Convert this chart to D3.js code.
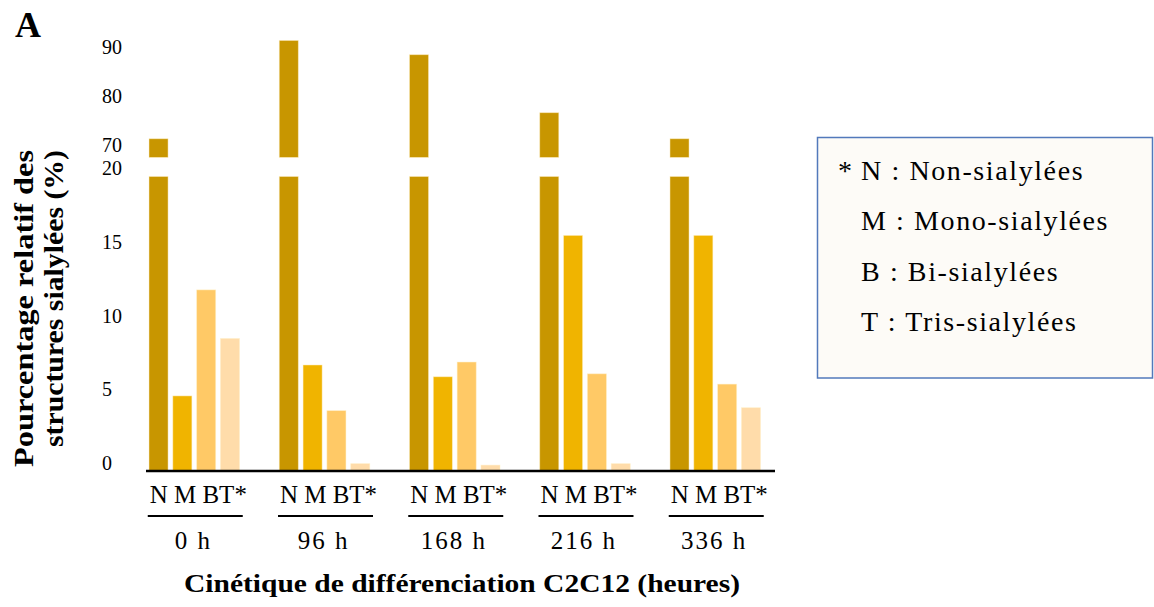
<!DOCTYPE html>
<html>
<head>
<meta charset="utf-8">
<script src="https://cdn.jsdelivr.net/npm/d3@7"></script>
<style>
  body { margin: 0; background: #fff; }
  svg { display: block; }
</style>
</head>
<body>
<div id="canvas"></div>
<script>
const groups = ["0 h", "96 h", "168 h", "216 h", "336 h"];
const series = ["N", "M", "B", "T"];
const valuesN = [72.9, 92.9, 90.0, 78.2, 72.9];
const valuesM = [5.1, 7.2, 6.4, 16.0, 16.0];
const valuesB = [12.3, 4.1, 7.4, 6.6, 5.9];
const valuesT = [9.0, 0.5, 0.4, 0.5, 4.3];
const lowTicks = [0, 5, 10, 15, 20];
const highTicks = [70, 80, 90];
const legendLabels = ["N : Non-sialylées", "M : Mono-sialylées", "B : Bi-sialylées", "T : Tris-sialylées"];
const colors = { N: "#c89600", M: "#f0b400", B: "#ffc966", T: "#ffdcaa" };

const w = 1154, h = 607;
const baseY = 471;       // x axis line
const lowTop = 176.5;    // top of lower panel (value 20)
const hiMin = 69.1;      // bottom value of the upper panel

// pick a Times-like font that is really installed
function hasFont(name) {
  const ctx = document.createElement("canvas").getContext("2d");
  const s = "abcdefghijklmnopqrstuvwxyz ABCDEFGHIJKLM 0123456789";
  let same = true;
  ["monospace", "sans-serif"].forEach(fb => {
    ctx.font = "40px " + fb;
    const a = ctx.measureText(s).width;
    ctx.font = "40px '" + name + "', " + fb;
    const b = ctx.measureText(s).width;
    if (a !== b) same = false;
  });
  return !same;
}
const serif = ["Liberation Serif", "Tinos", "Times New Roman", "Nimbus Roman", "FreeSerif", "DejaVu Serif"]
  .find(hasFont) || "serif";
const ff = "'" + serif + "', serif";

const valuesBySeries = { N: valuesN, M: valuesM, B: valuesB, T: valuesT };
const data = [];
groups.forEach((g, i) => {
  series.forEach(s => data.push({ group: g, key: s, value: valuesBySeries[s][i] }));
});

const svg = d3.select("#canvas").append("svg")
  .attr("width", w).attr("height", h)
  .style("font-family", ff);

const x0 = d3.scaleBand().domain(groups).range([149, 760.5]).paddingInner(0.305);
const x1 = d3.scaleBand().domain(series).range([0, x0.bandwidth()]).paddingInner(0.2);
const yLo = d3.scaleLinear().domain([0, 20]).range([baseY, lowTop]);
const yHi = d3.scaleLinear().domain([70, 90]).range([153, 54.7]);

// panel label
svg.append("text").attr("x", 15).attr("y", 37)
  .style("font-weight", "bold").style("font-size", "36px").text("A");

// y axes (labels only, left aligned)
function drawTicks(scale, ticks) {
  const ax = svg.append("g")
    .attr("transform", "translate(102,-8)")
    .call(d3.axisLeft(scale).tickValues(ticks).tickSize(0).tickPadding(0));
  ax.attr("font-family", null).attr("font-size", null);
  ax.select(".domain").remove();
  ax.selectAll("text")
    .attr("text-anchor", "start")
    .attr("x", 0)
    .style("font-family", ff)
    .style("font-size", "20px")
    .style("fill", "#000");
}
drawTicks(yLo, lowTicks);
drawTicks(yHi, highTicks);

// bars, lower panel
const bars = svg.append("g");
bars.selectAll(".low")
  .data(data)
  .enter().append("rect")
  .attr("class", "low")
  .attr("x", d => x0(d.group) + x1(d.key))
  .attr("width", x1.bandwidth())
  .attr("y", d => yLo(Math.min(d.value, 20)))
  .attr("height", d => baseY - yLo(Math.min(d.value, 20)))
  .style("fill", d => colors[d.key])
  .style("stroke", "rgba(255,240,200,0.6)").style("stroke-width", 0.8);

// bars, upper panel (only values above the break)
bars.selectAll(".high")
  .data(data.filter(d => d.value > 20))
  .enter().append("rect")
  .attr("class", "high")
  .attr("x", d => x0(d.group) + x1(d.key))
  .attr("width", x1.bandwidth())
  .attr("y", d => yHi(d.value))
  .attr("height", d => yHi(hiMin) - yHi(d.value))
  .style("fill", d => colors[d.key])
  .style("stroke", "rgba(255,240,200,0.6)").style("stroke-width", 0.8);

// x axis line
svg.append("line")
  .attr("x1", 146).attr("x2", 775)
  .attr("y1", baseY).attr("y2", baseY)
  .style("stroke", "#000").style("stroke-width", 2.5);

// category labels under each group
const cats = svg.append("g").selectAll("g")
  .data(groups)
  .enter().append("g")
  .attr("transform", d => "translate(" + (x0(d) + x0.bandwidth() / 2) + ",0)");

cats.append("text")
  .attr("x", 4).attr("y", 503)
  .attr("text-anchor", "middle")
  .style("font-size", "25px")
  .text("N M BT*");

cats.append("line")
  .attr("x1", -46.5).attr("x2", 48.5)
  .attr("y1", 516).attr("y2", 516)
  .style("stroke", "#000").style("stroke-width", 2);

cats.append("text")
  .attr("x", -1).attr("y", 549)
  .attr("text-anchor", "middle")
  .style("font-size", "25px")
  .style("letter-spacing", "2px")
  .text(d => d);

// axis titles
svg.append("text")
  .attr("transform", "translate(33,308.5) rotate(-90)")
  .attr("text-anchor", "middle")
  .attr("textLength", 317).attr("lengthAdjust", "spacingAndGlyphs")
  .style("font-weight", "bold").style("font-size", "27px")
  .text("Pourcentage relatif des");

svg.append("text")
  .attr("transform", "translate(63,298.5) rotate(-90)")
  .attr("text-anchor", "middle")
  .attr("textLength", 297).attr("lengthAdjust", "spacingAndGlyphs")
  .style("font-weight", "bold").style("font-size", "27px")
  .text("structures sialylées (%)");

svg.append("text")
  .attr("x", 462).attr("y", 592)
  .attr("text-anchor", "middle")
  .attr("textLength", 556).attr("lengthAdjust", "spacingAndGlyphs")
  .style("font-weight", "bold").style("font-size", "26px")
  .text("Cinétique de différenciation  C2C12 (heures)");

// legend box
const legend = svg.append("g").attr("transform", "translate(817.5,137.5)");
legend.append("rect")
  .attr("width", 335).attr("height", 240.5)
  .style("fill", "#fdfbf7")
  .style("stroke", "#5279bb").style("stroke-width", 1.5);

legend.append("text")
  .attr("x", 20.5).attr("y", 42)
  .style("font-size", "28px")
  .text("*");

legend.selectAll(".item")
  .data(legendLabels)
  .enter().append("text")
  .attr("class", "item")
  .attr("x", 43.5)
  .attr("y", (d, i) => 42 + i * 50.5)
  .style("font-size", "28px")
  .style("letter-spacing", "1.6px")
  .text(d => d);
</script>
</body>
</html>
